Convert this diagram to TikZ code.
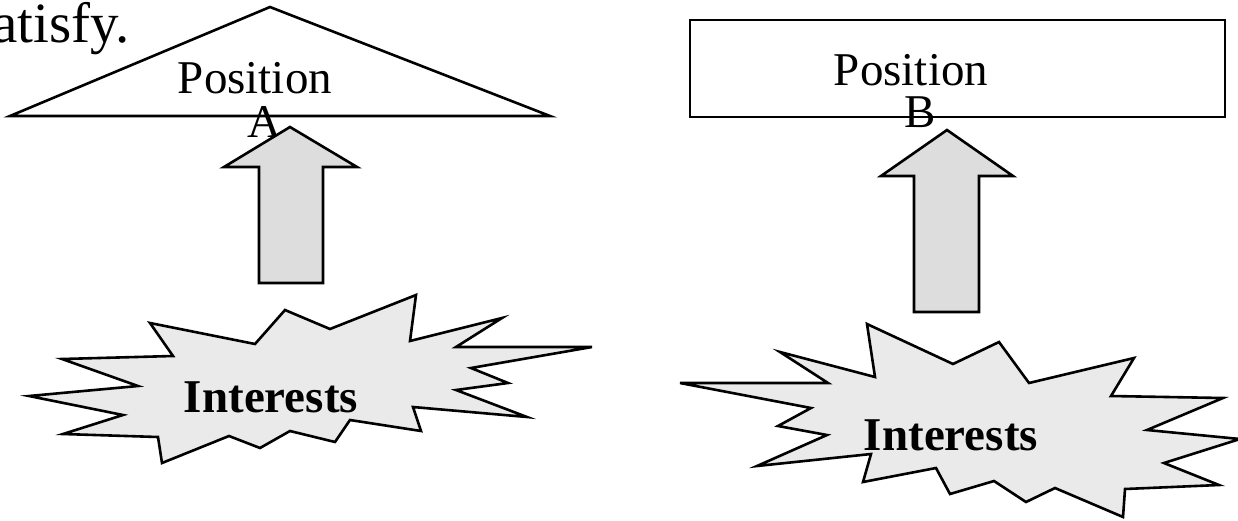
\documentclass[tikz,border=0pt]{standalone}
\usepackage{fontspec}
\setmainfont{Liberation Serif}
\definecolor{burstfill}{HTML}{EAEAEA}
\definecolor{arrowfill}{HTML}{DDDDDD}
\tikzset{
  outline/.style={draw=black, line width=2.6pt, line join=miter},
  burst/.style={outline, fill=burstfill},
  blockarrow/.style={outline, fill=arrowfill},
  lbl/.style={inner sep=0pt, anchor=base, font=\fontsize{47}{47}\selectfont},
  bigtxt/.style={inner sep=0pt, anchor=base east, font=\fontsize{57}{57}\selectfont},
  burstlbl/.style={inner sep=0pt, anchor=base, font=\fontsize{47}{47}\selectfont\bfseries}
}
\begin{document}
\begin{tikzpicture}[x=1pt,y=-1pt]
\useasboundingbox (0,0) rectangle (1238,520);
\clip (0,0) rectangle (1238,520);
\fill[white] (0,0) rectangle (1238,520);

% leftover text from previous line
\node[bigtxt] (sat) at (130,42) {satisfy.};

% ---------- Left: Position A ----------
\draw[outline] (10,116) -- (270,7) -- (550,116) -- cycle;
\node[lbl] (posA) at (255,93) {Position};
\node[lbl] (posAl) at (264,137) {A};

\draw[blockarrow] (259,283) -- (259,167) -- (224,167) -- (290,127) -- (357,167) -- (323,167) -- (323,283) -- cycle;

\draw[burst] (29,396) -- (138,386) -- (62,359) -- (173,356) -- (150,323) -- (255,344)
  -- (285,310) -- (330,329) -- (416,295) -- (410,341) -- (502,318) -- (456,347)
  -- (592,347) -- (471,368) -- (508,383) -- (456,390) -- (527,417) -- (413,407)
  -- (421,431) -- (350,420) -- (335,442) -- (290,431) -- (260,448) -- (229,436)
  -- (162,463) -- (158,437) -- (63,434) -- (123,415) -- cycle;
\node[burstlbl] (intA) at (271,412) {Interests};

% ---------- Right: Position B ----------
\draw[outline] (690,20) rectangle (1225,117);
\node[lbl] (posB) at (911,85) {Position};
\node[lbl] (posBl) at (920,127) {B};

\draw[blockarrow] (914,312) -- (914,176) -- (881,176) -- (947,130) -- (1013,176) -- (979,176) -- (979,312) -- cycle;

\draw[burst] (680,383) -- (828,383) -- (780,352) -- (875,377) -- (867,324) -- (953,364)
  -- (999,342) -- (1029,383) -- (1134,358) -- (1111,396) -- (1223,398) -- (1147,430)
  -- (1240,439) -- (1164,463) -- (1219,485) -- (1125,489) -- (1123,517) -- (1055,488)
  -- (1026,502) -- (994,481) -- (950,494) -- (936,468) -- (863,482) -- (871,454)
  -- (757,466) -- (827,435) -- (778,426) -- (811,408) -- cycle;
\node[burstlbl] (intB) at (951,450) {Interests};
\end{tikzpicture}
\end{document}
